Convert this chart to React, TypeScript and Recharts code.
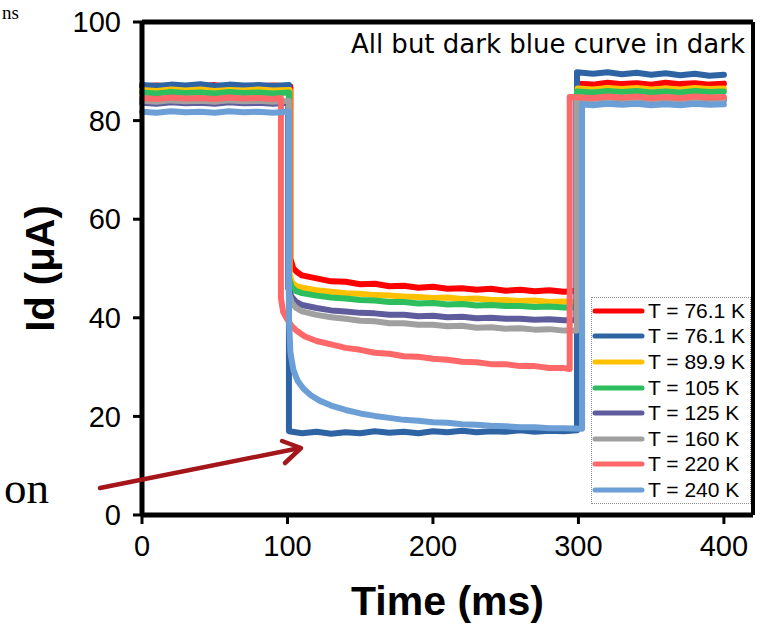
import React from 'react';
import { LineChart, Line, XAxis, YAxis, ReferenceLine, Legend, Label } from 'recharts';

type Pt = [number, number];

const timeTicks = [0, 100, 200, 300, 400];
const currentTicks = [0, 20, 40, 60, 80, 100];

const seriesNames = [
  'T = 76.1 K',
  'T = 76.1 K',
  'T = 89.9 K',
  'T = 105 K',
  'T = 125 K',
  'T = 160 K',
  'T = 220 K',
  'T = 240 K',
];
const seriesColors = ['#FF0000', '#2E64A4', '#FFC000', '#2DBE5E', '#5E5C9C', '#A0A0A0', '#FF6868', '#6B9FD6'];

// Id (uA) vs time (ms)
const red761: Pt[] = [
  [0, 86.9], [10, 87.1], [20, 86.8], [30, 87.0], [40, 86.9], [50, 87.2], [60, 86.8], [70, 87.0], [80, 86.9], [90, 87.1],
  [102, 86.9], [102, 52.0], [104, 50.0], [107, 49.2], [110, 48.6], [120, 48.0], [130, 47.4], [140, 47.3], [150, 46.8],
  [160, 46.9], [170, 46.4], [180, 46.5], [190, 46.1], [200, 46.3], [210, 45.9], [220, 46.0], [230, 45.7], [240, 45.9],
  [250, 45.5], [260, 45.7], [270, 45.4], [280, 45.6], [290, 45.3], [299, 45.5], [299, 87.5], [310, 87.3], [320, 87.7],
  [330, 87.4], [340, 87.6], [350, 87.3], [360, 87.7], [370, 87.4], [380, 87.6], [390, 87.3], [400, 87.5],
];
const blue761: Pt[] = [
  [0, 87.2], [10, 87.0], [20, 87.3], [30, 87.1], [40, 87.4], [50, 87.0], [60, 87.3], [70, 87.1], [80, 87.2], [90, 87.0],
  [101, 87.2], [101, 17.0], [110, 16.6], [120, 16.9], [130, 16.5], [140, 16.8], [150, 16.6], [160, 17.0], [170, 16.7],
  [180, 16.9], [190, 16.6], [200, 17.0], [210, 16.8], [220, 17.1], [230, 16.8], [240, 17.0], [250, 16.9], [260, 17.2],
  [270, 16.9], [280, 17.1], [290, 17.0], [299, 17.2], [299, 89.8], [310, 89.5], [320, 89.8], [330, 89.4], [340, 89.7],
  [350, 89.3], [360, 89.6], [370, 89.2], [380, 89.5], [390, 89.1], [400, 89.3],
];
const t899: Pt[] = [
  [0, 86.2], [10, 86.0], [20, 86.3], [30, 86.1], [40, 86.3], [50, 86.0], [60, 86.2], [70, 86.1], [80, 86.3], [90, 86.1],
  [101.5, 86.2], [101.5, 49.0], [103, 47.2], [106, 46.5], [110, 46.1], [120, 45.6], [130, 45.3], [140, 45.0], [150, 44.9],
  [160, 44.6], [170, 44.5], [180, 44.3], [190, 44.2], [200, 44.0], [210, 44.1], [220, 43.8], [230, 43.9], [240, 43.6],
  [250, 43.6], [260, 43.4], [270, 43.5], [280, 43.2], [290, 43.3], [299.5, 43.1], [299.5, 86.5], [310, 86.3], [320, 86.6],
  [330, 86.4], [340, 86.6], [350, 86.3], [360, 86.5], [370, 86.3], [380, 86.6], [390, 86.4], [400, 86.5],
];
const t105: Pt[] = [
  [0, 85.7], [10, 85.5], [20, 85.8], [30, 85.6], [40, 85.7], [50, 85.5], [60, 85.8], [70, 85.6], [80, 85.7], [90, 85.5],
  [101, 85.7], [101, 48.0], [103, 46.2], [106, 45.4], [110, 45.0], [120, 44.5], [130, 44.1], [140, 43.9], [150, 43.6],
  [160, 43.5], [170, 43.2], [180, 43.2], [190, 42.9], [200, 43.0], [210, 42.7], [220, 42.8], [230, 42.5], [240, 42.6],
  [250, 42.4], [260, 42.4], [270, 42.2], [280, 42.3], [290, 42.1], [299, 42.1], [299, 85.9], [310, 85.7], [320, 86.0],
  [330, 85.8], [340, 86.0], [350, 85.7], [360, 85.9], [370, 85.7], [380, 86.0], [390, 85.8], [400, 85.9],
];
const t125: Pt[] = [
  [0, 83.6], [10, 83.4], [20, 83.7], [30, 83.5], [40, 83.6], [50, 83.4], [60, 83.7], [70, 83.5], [80, 83.6], [90, 83.4],
  [100.5, 83.6], [100.5, 46.0], [103, 44.2], [106, 43.2], [110, 42.6], [120, 42.0], [130, 41.5], [140, 41.3], [150, 41.0],
  [160, 40.9], [170, 40.6], [180, 40.6], [190, 40.3], [200, 40.4], [210, 40.1], [220, 40.2], [230, 39.9], [240, 40.0],
  [250, 39.8], [260, 39.8], [270, 39.6], [280, 39.7], [290, 39.5], [298.5, 39.5], [298.5, 84.2], [310, 84.0], [320, 84.3],
  [330, 84.1], [340, 84.3], [350, 84.0], [360, 84.2], [370, 84.0], [380, 84.3], [390, 84.1], [400, 84.2],
];
const t160: Pt[] = [
  [0, 84.0], [10, 83.8], [20, 84.1], [30, 83.9], [40, 84.0], [50, 83.8], [60, 84.1], [70, 83.9], [80, 84.0], [90, 83.8],
  [101, 84.0], [101, 45.0], [103, 43.0], [106, 42.0], [110, 41.3], [120, 40.6], [130, 40.1], [140, 39.8], [150, 39.4],
  [160, 39.3], [170, 38.9], [180, 38.9], [190, 38.6], [200, 38.6], [210, 38.3], [220, 38.4], [230, 38.0], [240, 38.1],
  [250, 37.8], [260, 37.9], [270, 37.6], [280, 37.7], [290, 37.4], [299, 37.4], [299, 84.5], [310, 84.3], [320, 84.6],
  [330, 84.4], [340, 84.6], [350, 84.3], [360, 84.5], [370, 84.3], [380, 84.6], [390, 84.4], [400, 84.4],
];
const t220: Pt[] = [
  [0, 84.6], [10, 84.4], [20, 84.7], [30, 84.5], [40, 84.6], [50, 84.4], [60, 84.7], [70, 84.5], [80, 84.6], [90, 84.4],
  [95.5, 84.6], [95.5, 44.0], [97, 41.2], [100, 39.6], [103, 38.3], [107, 37.2], [112, 36.2], [120, 35.3], [130, 34.6],
  [140, 33.9], [150, 33.5], [160, 32.9], [170, 32.7], [180, 32.2], [190, 32.1], [200, 31.7], [210, 31.5], [220, 31.1],
  [230, 31.0], [240, 30.6], [250, 30.6], [260, 30.2], [270, 30.2], [280, 29.8], [290, 29.8], [294, 29.6], [294, 84.8],
  [310, 84.6], [320, 84.9], [330, 84.7], [340, 84.9], [350, 84.6], [360, 84.8], [370, 84.6], [380, 84.9], [390, 84.7],
  [400, 84.8],
];
const t240: Pt[] = [
  [0, 81.8], [10, 81.6], [20, 81.9], [30, 81.7], [40, 81.8], [50, 81.6], [60, 81.9], [70, 81.7], [80, 81.8], [90, 81.6],
  [101, 81.8], [101, 40.0], [102, 33.0], [104, 29.5], [107, 27.2], [111, 25.6], [116, 24.3], [122, 23.2], [130, 22.2],
  [140, 21.3], [150, 20.6], [160, 20.1], [170, 19.7], [180, 19.3], [190, 19.1], [200, 18.8], [210, 18.7], [220, 18.4],
  [230, 18.3], [240, 18.1], [250, 18.0], [260, 17.8], [270, 17.8], [280, 17.6], [290, 17.6], [302.5, 17.5], [302.5, 83.3],
  [310, 83.1], [320, 83.4], [330, 83.2], [340, 83.4], [350, 83.1], [360, 83.3], [370, 83.1], [380, 83.4], [390, 83.2],
  [400, 83.3],
];

const allSeries = [red761, blue761, t899, t105, t125, t160, t220, t240];

const toRows = (pts: Pt[]) => pts.map(([t, v]) => ({ t, v }));

const sans = 'Liberation Sans, Arial, sans-serif';

function LegendBox() {
  return (
    <div
      style={{
        boxSizing: 'border-box',
        width: 160,
        height: 207,
        border: '1px dotted #8c8c8c',
        background: '#fff',
        fontFamily: sans,
        fontSize: 21,
        color: '#000',
      }}
    >
      {seriesNames.map((name, i) => (
        <div key={i} style={{ display: 'flex', alignItems: 'center', height: 25.6 }}>
          <svg width={54} height={10} style={{ display: 'block' }}>
            <line x1={3} y1={5} x2={50} y2={5} stroke={seriesColors[i]} strokeWidth={5} strokeLinecap="round" />
          </svg>
          <span style={{ marginLeft: 2, whiteSpace: 'nowrap' }}>{name}</span>
        </div>
      ))}
    </div>
  );
}

export default function App() {
  return (
    <div style={{ position: 'absolute', left: 0, top: 0, width: 775, height: 625, background: '#fff' }}>
      <LineChart width={775} height={625} margin={{ top: 22, right: 22, left: 0, bottom: 0 }}>
        <XAxis
          dataKey="t"
          type="number"
          domain={[0, 420]}
          ticks={timeTicks}
          allowDuplicatedCategory={false}
          height={110}
          axisLine={{ stroke: '#000', strokeWidth: 5 }}
          tickLine={{ stroke: '#000', strokeWidth: 3 }}
          tickSize={9}
          tickMargin={11}
          tick={{ fill: '#000', fontSize: 29, fontFamily: sans }}
        >
          <Label
            value="Time (ms)"
            position="insideBottom"
            offset={10}
            style={{ fill: '#000', fontSize: 41, fontWeight: 700, fontFamily: sans }}
          />
        </XAxis>
        <YAxis
          type="number"
          domain={[0, 100]}
          ticks={currentTicks}
          width={142}
          axisLine={{ stroke: '#000', strokeWidth: 5 }}
          tickLine={{ stroke: '#000', strokeWidth: 3 }}
          tickSize={9}
          tickMargin={12}
          tick={{ fill: '#000', fontSize: 29, fontFamily: sans }}
        >
          <Label
            value="Id (μA)"
            position="center"
            angle={-90}
            dx={-31}
            style={{ fill: '#000', fontSize: 40, fontWeight: 700, fontFamily: sans }}
          />
        </YAxis>
        <ReferenceLine y={100} stroke="#000" strokeWidth={5} />
        <ReferenceLine x={420} stroke="#000" strokeWidth={4} />
        {allSeries.map((pts, i) => (
          <Line
            key={i}
            data={toRows(pts)}
            dataKey="v"
            name={seriesNames[i]}
            type="linear"
            stroke={seriesColors[i]}
            strokeWidth={6}
            strokeLinejoin="round"
            strokeLinecap="round"
            dot={false}
            isAnimationActive={false}
          />
        ))}
        <Legend
          layout="vertical"
          align="center"
          verticalAlign="middle"
          wrapperStyle={{ left: 591, top: 297, width: 160, height: 207 }}
          content={() => <LegendBox />}
        />
      </LineChart>
      <svg
        width={775}
        height={625}
        style={{ position: 'absolute', left: 0, top: 0, pointerEvents: 'none' }}
      >
        <text x={2} y={19} fontFamily="Liberation Serif, serif" fontSize={19} fill="#000">
          ns
        </text>
        <text x={4} y={503} fontFamily="Liberation Serif, serif" fontSize={45} fill="#000">
          on
        </text>
        <text x={745} y={53} textAnchor="end" fontFamily="DejaVu Sans, sans-serif" fontSize={26} fill="#000">
          All but dark blue curve in dark
        </text>
        <g stroke="#A4161A" strokeWidth={4.5} strokeLinecap="round" strokeLinejoin="round" fill="none">
          <line x1={100} y1={488} x2={300} y2={448} />
          <polyline points="282,441 301,448 285,463" />
        </g>
      </svg>
    </div>
  );
}
